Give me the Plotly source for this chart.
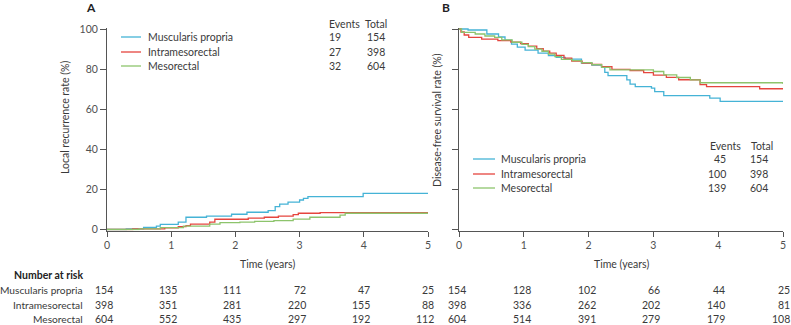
import plotly.graph_objects as go

W, H = 791, 325
FONT = "Lato"
TXT = "#3a3a3a"
AX = "#555555"
FS = 10.5

groups = ["Muscularis propria", "Intramesorectal", "Mesorectal"]
colors = ["#45b3d6", "#e5453e", "#8dc46c"]

# Panel A: local recurrence (cumulative %, step curves)
a_mp_t = [0, 0.3, 0.57, 0.77, 0.83, 1.11, 1.23, 1.55, 1.94, 2.18, 2.51, 2.62, 2.69, 2.82, 3.0, 3.06, 3.13, 3.99, 5.0]
a_mp_v = [0, 0.3, 1.0, 1.7, 2.6, 3.7, 6.1, 6.7, 7.6, 8.6, 9.4, 11.4, 12.7, 13.7, 14.7, 15.5, 16.4, 18.0, 18.0]
a_im_t = [0, 0.4, 0.9, 1.11, 1.23, 1.3, 1.6, 1.68, 2.2, 2.45, 2.67, 2.9, 2.98, 3.32, 5.0]
a_im_v = [0, 0.3, 0.8, 1.4, 1.9, 2.7, 3.7, 5.1, 5.7, 6.1, 6.7, 7.4, 8.1, 8.4, 8.4]
a_me_t = [0, 0.5, 0.83, 1.19, 1.6, 1.76, 2.07, 2.3, 2.6, 2.9, 3.16, 3.63, 3.71, 5.0]
a_me_v = [0, 0.3, 0.9, 1.7, 2.7, 3.4, 3.7, 4.1, 4.4, 5.2, 6.1, 7.2, 8.1, 8.1]

# Panel B: disease-free survival (%)
b_mp_t = [0, 0.14, 0.43, 0.61, 0.71, 0.81, 0.9, 1.02, 1.22, 1.38, 1.5, 1.64, 1.89, 2.05, 2.2, 2.25, 2.3, 2.59, 2.64, 2.72, 2.97, 3.02, 3.16, 3.87, 4.03, 5.0]
b_mp_v = [100, 99.5, 97.5, 96.0, 94.5, 92.5, 91.0, 89.5, 88.0, 86.7, 85.8, 85.0, 83.0, 82.0, 80.9, 78.4, 76.7, 74.6, 72.5, 71.3, 70.5, 68.8, 66.8, 65.5, 63.9, 63.9]
b_im_t = [0, 0.03, 0.08, 0.15, 0.35, 0.6, 0.8, 0.95, 1.07, 1.2, 1.3, 1.4, 1.5, 1.62, 1.74, 1.9, 2.05, 2.2, 2.36, 2.64, 2.85, 3.0, 3.2, 3.39, 3.72, 3.82, 4.64, 5.0]
b_im_v = [100, 98.5, 97.0, 95.8, 95.0, 94.2, 93.5, 92.7, 91.5, 90.2, 89.0, 88.0, 86.8, 85.5, 84.0, 83.0, 82.3, 81.2, 79.9, 79.3, 78.2, 77.0, 75.9, 74.7, 72.3, 71.3, 70.2, 70.2]
b_me_t = [0, 0.04, 0.25, 0.4, 0.55, 0.66, 0.82, 0.97, 1.07, 1.17, 1.28, 1.38, 1.48, 1.58, 1.75, 1.89, 2.05, 2.2, 2.33, 3.0, 3.16, 3.36, 3.57, 3.72, 5.0]
b_me_v = [100, 98.3, 97.5, 96.5, 95.8, 94.6, 93.4, 92.3, 91.2, 90.0, 88.9, 87.5, 86.2, 84.9, 84.2, 83.2, 82.2, 80.9, 79.6, 78.8, 77.1, 75.8, 74.6, 73.2, 72.6]

a_events = [19, 27, 32]
b_events = [45, 100, 139]
totals = [154, 398, 604]

risk_times = [0, 1, 2, 3, 4, 5]
a_risk = [[154, 135, 111, 72, 47, 25],
          [398, 351, 281, 220, 155, 88],
          [604, 552, 435, 297, 192, 112]]
b_risk = [[154, 128, 102, 66, 44, 25],
          [398, 336, 262, 202, 140, 81],
          [604, 514, 391, 279, 179, 108]]

a_series = [(a_mp_t, a_mp_v), (a_im_t, a_im_v), (a_me_t, a_me_v)]
b_series = [(b_mp_t, b_mp_v), (b_im_t, b_im_v), (b_me_t, b_me_v)]


def px(x):
    return x / W


def py(y):
    return 1 - y / H


fig = go.Figure()
for i, (t, v) in enumerate(a_series):
    fig.add_trace(go.Scatter(x=t, y=v, mode="lines", line=dict(color=colors[i], width=1.3, shape="hv"),
                             xaxis="x", yaxis="y", showlegend=False, hoverinfo="skip"))
for i, (t, v) in enumerate(b_series):
    fig.add_trace(go.Scatter(x=t, y=v, mode="lines", line=dict(color=colors[i], width=1.3, shape="hv"),
                             xaxis="x2", yaxis="y2", showlegend=False, hoverinfo="skip"))

y_dom = [py(230.5), py(28)]
axis_common = dict(showline=True, linecolor=AX, linewidth=1, ticks="outside", tickwidth=1,
                   tickcolor=AX, showgrid=False, zeroline=False, automargin=False,
                   tickfont=dict(family=FONT, size=FS, color="#505050"))
fig.update_layout(
    width=W, height=H, margin=dict(l=0, r=0, t=0, b=0),
    paper_bgcolor="white", plot_bgcolor="white",
    font=dict(family=FONT, size=FS, color=TXT),
    xaxis=dict(domain=[px(107), px(428)], range=[0, 5], tickvals=risk_times, anchor="y", ticklen=5, **axis_common),
    yaxis=dict(domain=y_dom, range=[-0.5, 100.5], tickvals=[0, 20, 40, 60, 80, 100], anchor="x",
               ticklen=6, **axis_common),
    xaxis2=dict(domain=[px(459), px(783)], range=[0, 5], tickvals=risk_times, anchor="y2", ticklen=5, **axis_common),
    yaxis2=dict(domain=y_dom, range=[-0.5, 100.5], tickvals=[0, 20, 40, 60, 80, 100], anchor="x2",
                showticklabels=False, ticklen=6, **axis_common),
)

ann = []
shapes = []


def text(x, y, s, xanchor="left", size=FS, bold=False, angle=0, color=TXT):
    ann.append(dict(x=px(x), y=py(y), xref="paper", yref="paper", text=("<b>%s</b>" % s) if bold else s,
                    showarrow=False, xanchor=xanchor, yanchor="middle", textangle=angle,
                    font=dict(family=FONT, size=size, color=color)))


# Panel titles
text(91, 8, "A", xanchor="center", size=12, bold=True, color="#222")
text(446, 8, "B", xanchor="center", size=12, bold=True, color="#222")

# Y-axis titles
text(65, 118, "Local recurrence rate (%)", xanchor="center", angle=-90)
text(437, 120, "Disease-free survival rate (%)", xanchor="center", angle=-90)

# X-axis titles
text(267, 264, "Time (years)", xanchor="center")
text(621, 264, "Time (years)", xanchor="center")

# Legend A
la_y = [37, 52, 66]
text(327, 24, "Events")
text(363, 24, "Total")
for i, g in enumerate(groups):
    shapes.append(dict(type="line", xref="paper", yref="paper", x0=px(121), x1=px(141), y0=py(la_y[i]), y1=py(la_y[i]),
                       line=dict(color=colors[i], width=1.3)))
    text(146, la_y[i], g)
    text(327, la_y[i], str(a_events[i]))
    text(365, la_y[i], str(totals[i]))

# Legend B
lb_y = [159, 174, 188]
text(708, 146, "Events")
text(749, 146, "Total")
for i, g in enumerate(groups):
    shapes.append(dict(type="line", xref="paper", yref="paper", x0=px(473), x1=px(495), y0=py(lb_y[i]), y1=py(lb_y[i]),
                       line=dict(color=colors[i], width=1.3)))
    text(499, lb_y[i], g)
    text(728, lb_y[i], str(b_events[i]), xanchor="right")
    text(770, lb_y[i], str(totals[i]), xanchor="right")

# Number at risk table
text(85, 275, "Number at risk", xanchor="right", bold=True, color="#222")
row_y = [290, 305, 319]
for i, g in enumerate(groups):
    text(85, row_y[i], g, xanchor="right", size=10.2)
    for j, t in enumerate(risk_times):
        for xr, data, sh in (("x", a_risk, 8), ("x2", b_risk, 9)):
            ann.append(dict(x=t, y=py(row_y[i]), xref=xr, yref="paper", text=str(data[i][j]), showarrow=False,
                            xanchor="right", yanchor="middle", xshift=sh,
                            font=dict(family=FONT, size=FS, color=TXT)))

fig.update_layout(annotations=ann, shapes=shapes)
fig.write_html("out.html", config={"displayModeBar": False},
               post_script="document.body.style.margin='0';document.body.style.padding='0';")
